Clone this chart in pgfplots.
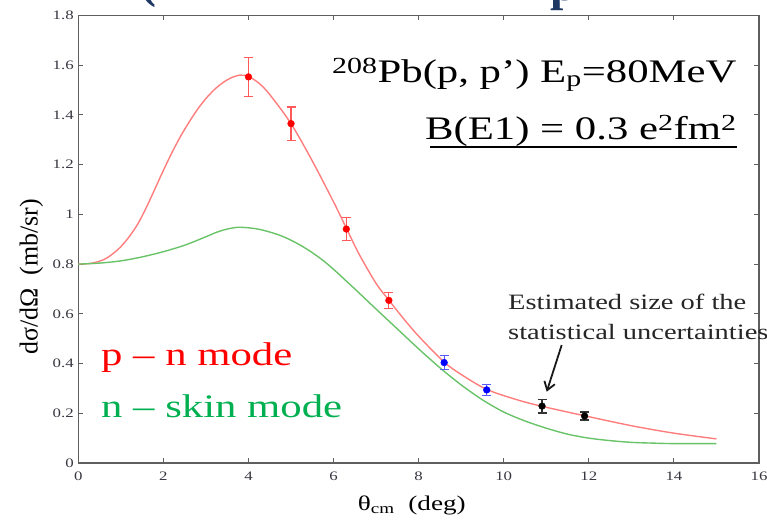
\documentclass[border=0pt]{standalone}
\usepackage{pgfplots}
\pgfplotsset{compat=1.18}
\usepackage{pgfplotstable}
\usepackage{fontspec}
\setmainfont{Liberation Serif}
\newfontfamily\wide[FakeStretch=1.3]{Liberation Serif}
\usetikzlibrary{arrows.meta}

\definecolor{axisgray}{RGB}{95,95,95}
\definecolor{ticktext}{RGB}{55,55,65}
\definecolor{pncurve}{RGB}{255,125,125}
\definecolor{skincurve}{RGB}{105,195,105}
\definecolor{labelgreen}{RGB}{0,176,80}
\definecolor{titlenavy}{RGB}{31,56,100}

% calculated cross sections (mb/sr) vs theta_cm (deg)
\pgfplotstableread{
x     y
0.0   0.800
0.3   0.803
0.6   0.818
0.8   0.840
1.0   0.870
1.2   0.911
1.4   0.962
1.6   1.028
1.8   1.102
2.0   1.177
2.2   1.248
2.4   1.313
2.6   1.370
2.8   1.422
3.0   1.466
3.2   1.502
3.4   1.530
3.6   1.550
3.8   1.560
4.0   1.555
4.25  1.527
4.5   1.482
5.0   1.365
5.5   1.215
6.0   1.050
6.3   0.945
6.6   0.840
7.0   0.722
7.3   0.655
7.6   0.590
8.0   0.510
8.6   0.406
9.0   0.356
9.6   0.296
10.3  0.255
10.9  0.228
11.9  0.190
13.0  0.150
14.0  0.120
15.0  0.097
}\pnmode

\pgfplotstableread{
x     y
0.0   0.800
0.5   0.804
1.0   0.813
1.5   0.829
2.0   0.850
2.5   0.876
3.0   0.910
3.25  0.928
3.5   0.941
3.75  0.948
4.0   0.946
4.25  0.940
4.5   0.929
4.75  0.915
5.0   0.896
5.25  0.873
5.5   0.846
5.75  0.815
6.0   0.779
6.5   0.700
7.0   0.619
7.5   0.539
8.0   0.459
8.5   0.383
9.0   0.314
9.5   0.254
10.0  0.205
10.5  0.169
11.0  0.140
11.5  0.116
12.0  0.100
12.5  0.090
13.0  0.083
13.5  0.080
14.0  0.078
15.0  0.078
}\skinmode

% pseudo data with error bars
\pgfplotstableread{
x     y      e
4.0   1.553  0.078
5.0   1.365  0.067
6.3   0.941  0.045
7.3   0.654  0.032
}\redpts
\pgfplotstableread{
x     y      e
8.6   0.404  0.028
9.6   0.294  0.021
}\bluepts
\pgfplotstableread{
x     y      e
10.9  0.229  0.028
11.9  0.189  0.016
}\blackpts

\begin{document}
\begin{tikzpicture}[x=1bp,y=1bp]
% page frame, with the axis box's lower left corner at the origin
\useasboundingbox (-78.3,-62) rectangle (688.7,463);

\begin{axis}[
  scale only axis, width=680.7bp, height=447.5bp,
  xmin=0, xmax=16, ymin=0, ymax=1.8,
  xtick={0,2,...,16},
  ytick={0,0.2,0.4,0.6,0.8,1.0,1.2,1.4,1.6,1.8},
  tick pos=both, tick align=inside,
  major tick length=5bp,
  axis line style={axisgray, line width=1.2pt},
  tick style={axisgray, line width=1.1pt},
  /pgf/number format/assume math mode=true,
  /pgf/number format/.cd, fixed, precision=1, /pgfplots/.cd,
  ticklabel style={font=\wide\fontsize{13}{14}\selectfont, text=ticktext},
  xticklabel style={yshift=-5bp},
  yticklabel style={xshift=-1bp},
  xlabel={θ\textsubscript{cm}\ \ (deg)},
  xlabel style={font=\wide\fontsize{21}{24}\selectfont, at={(rel axis cs:0.49,0)},
                anchor=center, yshift=-42bp},
  ylabel={dσ/dΩ\ \ (mb/sr)},
  ylabel style={font=\fontsize{26}{28}\selectfont, at={(rel axis cs:0,0.416)},
                anchor=center, yshift=47bp},
  clip=false,
]
\addplot[pncurve, line width=1.4pt, smooth] table[x=x,y=y] {\pnmode};
\addplot[skincurve, line width=1.4pt, smooth] table[x=x,y=y] {\skinmode};

\addplot[only marks, mark=*, mark size=3.4, color=red,
  error bars/.cd, y dir=both, y explicit,
  error bar style={color=red!65, line width=1.1pt},
  error mark options={rotate=90, mark size=4.5, color=red!65, line width=1.1pt}]
  table[x=x,y=y,y error=e] {\redpts};
\addplot[only marks, mark=*, mark size=3.4, color=blue,
  error bars/.cd, y dir=both, y explicit,
  error bar style={color=blue!65, line width=1.1pt},
  error mark options={rotate=90, mark size=4.5, color=blue!65, line width=1.1pt}]
  table[x=x,y=y,y error=e] {\bluepts};
\addplot[only marks, mark=*, mark size=3.4, color=black,
  error bars/.cd, y dir=both, y explicit,
  error bar style={color=black!80, line width=1.1pt},
  error mark options={rotate=90, mark size=4.5, color=black!80, line width=1.1pt}]
  table[x=x,y=y,y error=e] {\blackpts};
\end{axis}

% annotations, placed in page units measured from the bottom left corner
\begin{scope}[shift={(-78.3,-62)}]
% fragments of the slide heading above the plot
\node[anchor=base west, inner sep=0, text=titlenavy] at (140,527)
  {\fontsize{48}{50}\selectfont\bfseries (};
\node[anchor=base west, inner sep=0, text=titlenavy] at (550,524)
  {\fontsize{48}{50}\selectfont\bfseries p};

% reaction and transition strength
\node[anchor=base east, inner sep=0] at (736.7,442)
  {\wide\fontsize{33}{36}\selectfont \textsuperscript{208}Pb(p, p’) E\textsubscript{p}=80MeV};
\node[anchor=base east, inner sep=0] at (736.7,385)
  {\wide\fontsize{33}{36}\selectfont B(E1) = 0.3 e\textsuperscript{2}fm\textsuperscript{2}};
\draw[black, line width=1.7bp] (430,378.3) -- (736.7,378.3);

% mode labels
\node[anchor=base west, inner sep=0, text=red] at (101,159)
  {\wide\fontsize{33}{36}\selectfont p – n mode};
\node[anchor=base west, inner sep=0, text=labelgreen] at (101,107)
  {\wide\fontsize{33}{36}\selectfont n – skin mode};

% note on the statistical uncertainties
\node[anchor=base west, inner sep=0, text=black!85] at (508,215)
  {\wide\fontsize{22}{24}\selectfont Estimated size of the};
\node[anchor=base west, inner sep=0, text=black!85] at (508,185)
  {\wide\fontsize{22}{24}\selectfont statistical uncertainties};
\draw[black!90, line width=1.8bp, -{Straight Barb[length=8bp,width=11bp]}]
  (561.7,180) -- (546.7,133.3);
\end{scope}
\end{tikzpicture}
\end{document}
